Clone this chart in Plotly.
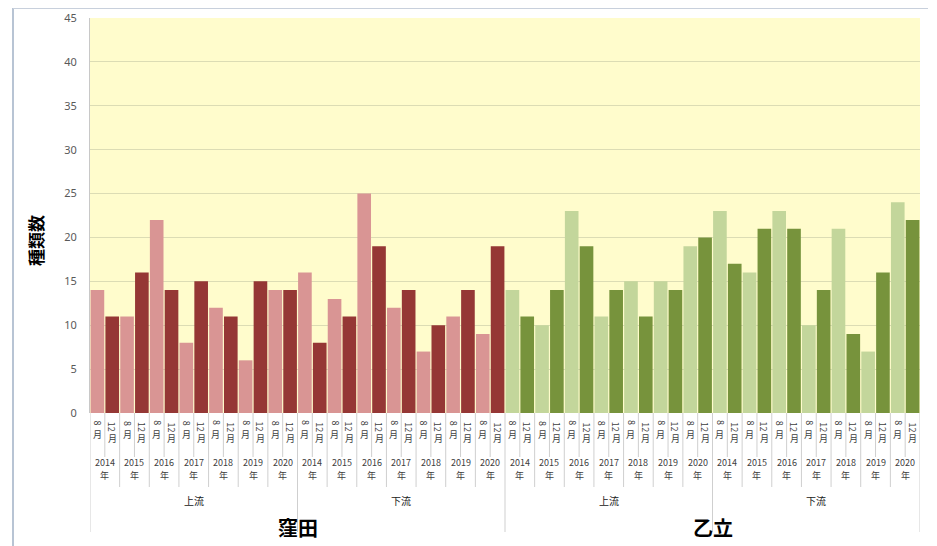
import plotly.graph_objects as go

sites = ["窪田", "乙立"]
streams = ["上流", "下流"]
years = ["2014", "2015", "2016", "2017", "2018", "2019", "2020"]
months = ["8", "12"]

kubota_up = [14, 11, 11, 16, 22, 14, 8, 15, 12, 11, 6, 15, 14, 14]
kubota_down = [16, 8, 13, 11, 25, 19, 12, 14, 7, 10, 11, 14, 9, 19]
otachi_up = [14, 11, 10, 14, 23, 19, 11, 14, 15, 11, 15, 14, 19, 20]
otachi_down = [23, 17, 16, 21, 23, 21, 10, 14, 21, 9, 7, 16, 24, 22]

colors = {
    ("窪田", "8"): "#d99594",
    ("窪田", "12"): "#953735",
    ("乙立", "8"): "#c3d69b",
    ("乙立", "12"): "#77933c",
}

series = {("窪田", "上流"): kubota_up, ("窪田", "下流"): kubota_down,
          ("乙立", "上流"): otachi_up, ("乙立", "下流"): otachi_down}

xs, ys, cs = [], [], []
i = 0
for s in sites:
    for st in streams:
        vals = series[(s, st)]
        k = 0
        for y in years:
            for m in months:
                xs.append(i)
                ys.append(vals[k])
                cs.append(colors[(s, m)])
                k += 1
                i += 1
n = i

fig = go.Figure(go.Bar(x=xs, y=ys, marker=dict(color=cs, line=dict(width=0)),
                       showlegend=False, hoverinfo="y"))

# page offset (browser body margin)
OFF = 8
W, HGT = 937 - OFF, 546 - OFF
L, R = 90, 920        # plot area in reference pixels
TOP, BOT = 18, 413
H = BOT - TOP


def py(p):
    return (BOT - p) / H


def px(p):
    return (p - L) / (R - L)


shapes = []
ann = []
gray = "#cfcfcf"

# separators
for b in range(n + 1):
    xb = b - 0.5
    if b % 14 == 0:
        yend = 532
    elif b % 2 == 0:
        yend = 487
    else:
        yend = 457
    shapes.append(dict(type="line", xref="x", yref="paper", x0=xb, x1=xb,
                       y0=py(BOT), y1=py(yend), line=dict(color=gray, width=1)))


def text(x, y, t, font, xref="x", angle=0):
    ann.append(dict(x=x, y=y, xref=xref, yref="paper", text=t, textangle=angle,
                    showarrow=False, font=font, borderpad=0,
                    xanchor="center", yanchor="middle"))


lab_font = dict(family="Noto Sans CJK JP", size=9, color="#404040")
i = 0
for s in sites:
    for st in streams:
        for y in years:
            for m in months:
                if m == "8":
                    dy, my = 423, 434
                else:
                    dy, my = 427, 439
                text(i, py(dy), m, lab_font, angle=90)
                text(i, py(my), "月", lab_font)
                i += 1

yf = dict(family="Noto Sans CJK JP", size=9, color="#404040")
g = 0
for s in sites:
    for st in streams:
        for y in years:
            cx = g * 2 + 0.5
            text(cx, py(462), y, yf)
            text(cx, py(475), "年", yf)
            g += 1

h = 0
for s in sites:
    for st in streams:
        text(h * 14 + 6.5, py(500), st,
             dict(family="Noto Sans CJK JP", size=10, color="#202020"))
        h += 1

for j, s in enumerate(sites):
    text(j * 28 + 13.5, py(527), "<b>" + s + "</b>",
         dict(family="Noto Sans CJK JP", size=20, color="#000000"))

# y-axis title
text(px(35), py(240), "<b>種類数</b>",
     dict(family="Noto Sans CJK JP", size=17, color="#000000"),
     xref="paper", angle=-90)

# outer frame
shapes.append(dict(type="line", xref="paper", yref="paper", x0=px(13), x1=px(13),
                   y0=py(8), y1=py(546), line=dict(color="#b8c4d4", width=2)))
shapes.append(dict(type="line", xref="paper", yref="paper", x0=px(13), x1=px(928),
                   y0=py(8), y1=py(8), line=dict(color="#c8d0dc", width=2)))

fig.update_layout(
    width=W, height=HGT,
    margin=dict(l=L - OFF, r=(W + OFF) - R, t=TOP - OFF, b=(HGT + OFF) - BOT,
                autoexpand=False),
    paper_bgcolor="white",
    plot_bgcolor="#fffccc",
    bargap=0.08,
    shapes=shapes,
    annotations=ann,
    xaxis=dict(range=[-0.5, n - 0.5], showticklabels=False, showgrid=False,
               zeroline=False, showline=False, ticks="", automargin=False),
    yaxis=dict(range=[0, 45], dtick=5, showgrid=True, gridcolor="#dcdcb4",
               gridwidth=1, zeroline=False, showline=True, linecolor="#c8c8c8",
               tickfont=dict(family="Noto Sans", size=11, color="#595959"),
               ticks="", ticklabelstandoff=10, automargin=False),
    font=dict(family="Noto Sans CJK JP"),
)

fig.write_html("out.html")
